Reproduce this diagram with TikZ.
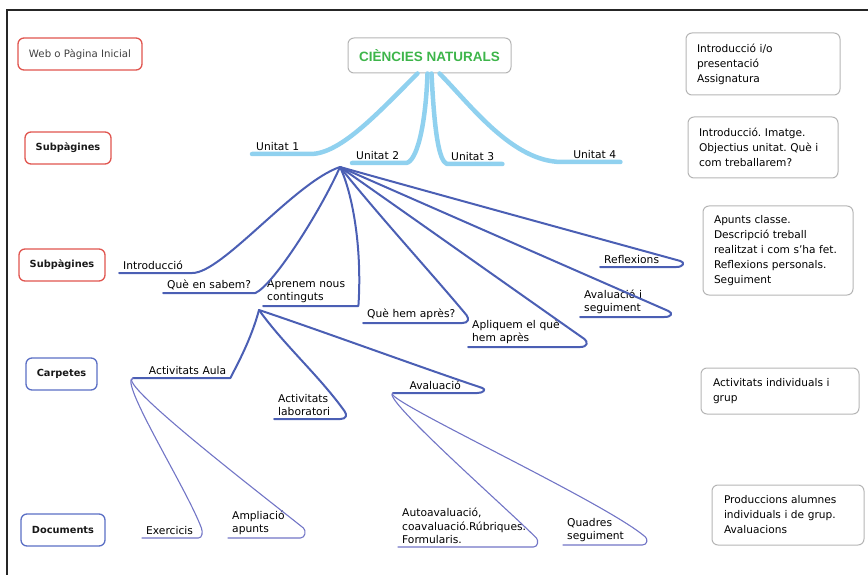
\documentclass[tikz,border=0pt]{standalone}
\usepackage{fontspec}
\setmainfont{DejaVu Sans}
\newfontfamily\titlefont{Liberation Sans}
\frenchspacing

\definecolor{unitblue}{HTML}{90D1EF}
\definecolor{topicblue}{HTML}{4B5FB4}
\definecolor{docblue}{HTML}{7275C6}
\definecolor{boxred}{HTML}{E0554F}
\definecolor{boxblue}{HTML}{5B6FC4}
\definecolor{boxgray}{HTML}{B5B5B5}
\definecolor{titlegreen}{HTML}{3DB54A}

\tikzset{
  levelbox/.style={rounded corners=6pt, line width=1.3pt, text=black!90,
    font=\fontsize{9.8}{11}\selectfont\bfseries},
  redbox/.style={levelbox, draw=boxred},
  bluebox/.style={levelbox, draw=boxblue},
  infobox/.style={draw=boxgray, rounded corners=6pt, line width=1pt, align=left,
    inner xsep=11pt, text=black, font=\fontsize{10.6}{15}\selectfont},
  mlabel/.style={anchor=south west, inner xsep=4pt, inner ysep=3pt, align=left,
    text=black, font=\fontsize{10.7}{13.5}\selectfont},
  unitline/.style={unitblue, line width=4.5pt, line cap=round, line join=round},
  topicline/.style={topicblue, line width=2pt, line cap=round, line join=round},
  docline/.style={docblue, line width=1.1pt, line cap=round, line join=round}
}

\begin{document}
\frenchspacing
\begin{tikzpicture}[x=1pt, y=-1pt]
  \useasboundingbox (0,0) rectangle (868,575);
  \draw[black!85, line width=1.3pt] (7,575) -- (7,10) -- (868,10);

  % level boxes on the left
  \node[redbox, minimum width=124pt, minimum height=32pt, font=\fontsize{10.2}{12}\selectfont, text=black!75] (web) at (80,54) {Web o Pàgina Inicial};
  \node[redbox, minimum width=86pt, minimum height=32pt] (sub1) at (68,148) {Subpàgines};
  \node[redbox, minimum width=86pt, minimum height=32pt] (sub2) at (62,265) {Subpàgines};
  \node[bluebox, minimum width=71pt, minimum height=32pt] (carp) at (61.5,374) {Carpetes};
  \node[bluebox, minimum width=84pt, minimum height=32pt] (docs) at (63,530) {Documents};

  % title
  \node[draw=boxgray, rounded corners=6pt, line width=1pt, minimum width=163pt, minimum height=35pt,
    text=titlegreen, font=\titlefont\fontsize{13.5}{15}\selectfont\bfseries] (title) at (429.5,55.5) {CIÈNCIES NATURALS};

  % notes on the right
  \node[infobox, text width=132pt, minimum height=62pt] (note1) at (763,64) {Introducció i/o\\presentació\\Assignatura};
  \node[infobox, text width=128pt, minimum height=61pt] (note2) at (763,147.5) {Introducció. Imatge.\\Objectius unitat. Què i\\com treballarem?};
  \node[infobox, text width=128pt, minimum height=89pt] (note3) at (778,250.5) {Apunts classe.\\Descripció treball\\realitzat i com s'ha fet.\\Reflexions personals.\\Seguiment};
  \node[infobox, text width=134pt, inner xsep=12pt, minimum height=46pt] (note4) at (780,391) {Activitats individuals i\\grup};
  \node[infobox, text width=128pt, inner xsep=12pt, minimum height=60pt] (note5) at (788,515) {Produccions alumnes\\individuals i de grup.\\Avaluacions};

  % units
  \node[mlabel, text width=50pt] (u1) at (252,154) {Unitat 1};
  \node[mlabel, text width=46pt] (u2) at (352,163) {Unitat 2};
  \node[mlabel, text width=47pt] (u3) at (447,164) {Unitat 3};
  \node[mlabel, text width=50pt, align=right] (u4) at (562,162) {Unitat 4};

  % subpages of Unitat 2
  \node[mlabel, text width=65pt] (intro) at (119,273) {Introducció};
  \node[mlabel, text width=84pt] (sabem) at (163,293) {Què en sabem?};
  \node[mlabel, text width=87pt] (aprenem) at (263,306) {Aprenem nous\\continguts};
  \node[mlabel, text width=91pt] (hemapres) at (363,323) {Què hem après?};
  \node[mlabel, text width=104pt] (apliquem) at (468,347) {Apliquem el què\\hem après};
  \node[mlabel, text width=76pt] (avalseg) at (580,317) {Avaluació i\\seguiment};
  \node[mlabel, text width=68pt] (reflex) at (600,267) {Reflexions};

  % folders
  \node[mlabel, text width=89pt, align=right] (aula) at (133,378) {Activitats Aula};
  \node[mlabel, text width=58pt] (lab) at (274,419) {Activitats\\laboratori};
  \node[mlabel, text width=76pt, align=center] (aval) at (393,393) {Avaluació};

  % documents
  \node[mlabel, text width=48pt] (exerc) at (142,538) {Exercicis};
  \node[mlabel, text width=64pt] (ampl) at (228,538) {Ampliació\\apunts};
  \node[mlabel, text width=127pt] (autoav) at (398,547) {Autoavaluació,\\coavaluació.Rúbriques.\\Formularis.};
  \node[mlabel, text width=71pt] (quadres) at (563,545) {Quadres\\seguiment};

  \coordinate (hub) at ([shift={(-12,4)}]u2.south west);
  \coordinate (sub) at ([shift={(-4,4)}]aprenem.south west);

  % title to units
  \draw[unitline] ([xshift=-12pt]title.south) .. controls +(-40,40) and +(30,0) .. (u1.south east) -- (u1.south west);
  \draw[unitline] ([xshift=-2pt]title.south) .. controls +(-2,55) and +(10,-2) .. (u2.south east) -- (u2.south west);
  \draw[unitline] ([xshift=2pt]title.south) .. controls +(3,60) and +(-8,-3) .. (u3.south west) -- (u3.south east);
  \draw[unitline] ([xshift=10pt]title.south) .. controls +(30,30) and +(-50,0) .. (u4.south west) -- (u4.south east);

  % Unitat 2 to subpages
  \draw[topicline] (hub) .. controls +(-45,15) and +(30,0) .. (intro.south east) -- (intro.south west);
  \draw[topicline] (hub) .. controls +(-20,45) and +(18,-8) .. (sabem.south east) -- (sabem.south west);
  \draw[topicline] (hub) .. controls +(12,25) and +(4,-60) .. (aprenem.south east) -- (aprenem.south west);
  \draw[topicline] (hub) .. controls +(40,50) and +(-35,-42) .. ([shift={(4,-8)}]hemapres.south east)
    .. controls +(3,4) and +(6,0) .. (hemapres.south east) -- (hemapres.south west);
  \draw[topicline] (hub) .. controls +(80,56) and +(-60,-42) .. ([shift={(4,-8)}]apliquem.south east)
    .. controls +(4,3) and +(7,0) .. (apliquem.south east) -- (apliquem.south west);
  \draw[topicline] (hub) .. controls +(100,44) and +(-80,-35) .. ([shift={(4,-6)}]avalseg.south east)
    .. controls +(5,2.2) and +(7,0) .. (avalseg.south east) -- (avalseg.south west);
  \draw[topicline] (hub) .. controls +(100,28) and +(-80,-22) .. ([shift={(4,-6)}]reflex.south east)
    .. controls +(5,1.4) and +(7,0) .. (reflex.south east) -- (reflex.south west);

  % Aprenem nous continguts to folders
  \draw[topicline] (sub) .. controls +(-8,30) and +(6,-12) .. (aula.south east) -- (aula.south west);
  \draw[topicline] (sub) .. controls +(25,35) and +(-25,-35) .. ([shift={(4,-8)}]lab.south east)
    .. controls +(3,4) and +(6,0) .. (lab.south east) -- (lab.south west);
  \draw[topicline] (sub) .. controls +(60,20) and +(-60,-20) .. ([shift={(5,-5)}]aval.south east)
    .. controls +(4,1.5) and +(6,0) .. (aval.south east) -- (aval.south west);

  % folders to documents
  \draw[docline] (aula.south west) .. controls +(-15,2) and +(-15,-40) .. ([shift={(3,-10)}]exerc.south east)
    .. controls +(1.5,4) and +(4,0) .. (exerc.south east) -- (exerc.south west);
  \draw[docline] (aula.south west) .. controls +(-18,4) and +(-40,-32) .. ([shift={(3,-10)}]ampl.south east)
    .. controls +(3,2.5) and +(5,0) .. (ampl.south east) -- (ampl.south west);
  \draw[docline] (aval.south west) .. controls +(-14,3) and +(-30,-30) .. ([shift={(3,-9)}]autoav.south east)
    .. controls +(2,2) and +(5,0) .. (autoav.south east) -- (autoav.south west);
  \draw[docline] (aval.south west) .. controls +(-16,4) and +(-40,-35) .. ([shift={(3,-8)}]quadres.south east)
    .. controls +(2.5,2) and +(5,0) .. (quadres.south east) -- (quadres.south west);
\end{tikzpicture}
\end{document}
